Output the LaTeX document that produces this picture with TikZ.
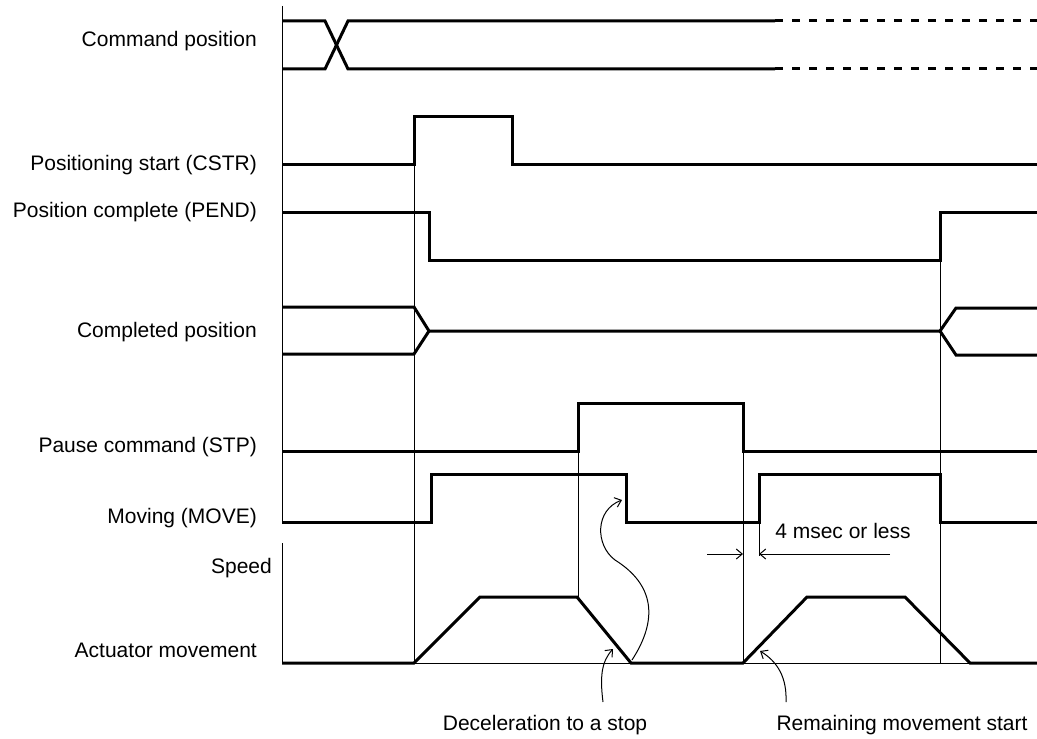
\documentclass[tikz,border=0pt]{standalone}
\usepackage{fontspec}
\setmainfont{Liberation Sans}
\usetikzlibrary{arrows.meta}
\begin{document}
\begin{tikzpicture}[x=1bp,y=-1bp,
  sig/.style={line width=3bp, line join=miter},
  thinline/.style={line width=1bp},
  lbl/.style={anchor=base east, inner sep=0pt, font=\fontsize{21bp}{25bp}\selectfont},
  note/.style={anchor=base, inner sep=0pt, font=\fontsize{21bp}{25bp}\selectfont},
  barb/.style={-{Straight Barb[length=6bp,width=10bp]}},
  dashsig/.style={sig, dash pattern=on 8bp off 9bp}]
\useasboundingbox (0,0) rectangle (1037,739);

% labels
\node[lbl] (cmd)  at (257,46.5) {Command position};
\node[lbl] (cstr) at (257,170)  {Positioning start (CSTR)};
\node[lbl] (pend) at (257,217)  {Position complete (PEND)};
\node[lbl] (cpos) at (257,337)  {Completed position};
\node[lbl] (stp)  at (257,452)  {Pause command (STP)};
\node[lbl] (move) at (257,523)  {Moving (MOVE)};
\node[lbl] (spd)  at (272,573)  {Speed};
\node[lbl] (act)  at (257,657)  {Actuator movement};

% axes
\draw[thinline] (282,6) -- (282,522);
\draw[thinline] (282,543) -- (282,663);

% thin vertical guide lines
\draw[thinline] (414,116) -- (414,663);
\draw[thinline] (940,212) -- (940,663);
\draw[thinline] (578,403) -- (578,597);
\draw[thinline] (743,403) -- (743,663);
\draw[thinline] (759,474) -- (759,556);

% speed baseline
\draw[thinline] (282,663) -- (1037,663);

% command position
\draw[sig] (282,21) -- (325,21) -- (348,69) -- (775,69);
\draw[sig] (282,69) -- (325,69) -- (348,21) -- (775,21);
\draw[dashsig] (775,21) -- (1037,21);
\draw[dashsig] (775,69) -- (1037,69);

% CSTR
\draw[sig] (282,164) -- (414,164) -- (414,116) -- (512,116) -- (512,164) -- (1037,164);

% PEND
\draw[sig] (282,212) -- (429,212) -- (429,260) -- (940,260) -- (940,212) -- (1037,212);

% completed position
\draw[sig] (282,307) -- (414,307) -- (429,331) -- (940,331) -- (956,308) -- (1037,308);
\draw[sig] (282,354) -- (414,354) -- (429,331);
\draw[sig] (940,331) -- (956,355) -- (1037,355);

% STP
\draw[sig] (282,451) -- (578,451) -- (578,403) -- (743,403) -- (743,451) -- (1037,451);

% MOVE
\draw[sig] (282,522) -- (431,522) -- (431,474) -- (626,474) -- (626,522) -- (759,522) -- (759,474) -- (940,474) -- (940,522) -- (1037,522);

% speed profile
\draw[sig] (282,663) -- (414,663) -- (480,597) -- (577,597) -- (631,663) -- (743,663) -- (807,597) -- (905,597) -- (970,663) -- (1037,663);

% 4 msec dimension
\coordinate (dl) at (707,554);
\coordinate (dlt) at (743,554);
\coordinate (dr) at (890,554);
\coordinate (drt) at (759,554);
\draw[thinline, barb] (dl) -- (dlt);
\draw[thinline, barb] (dr) -- (drt);
\node[note] (msec) at (843,538) {4 msec or less};

% annotations
\node[note] (decel) at (545,730) {Deceleration to a stop};
\node[note] (remain) at (902,730) {Remaining movement start};

\coordinate (a1s) at (603,702);
\coordinate (a1e) at (613,649);
\draw[thinline, barb] (a1s) .. controls (600,678) and (601,662) .. (a1e);

\coordinate (a2s) at (786,702);
\coordinate (a2e) at (760,651);
\draw[thinline, barb] (a2s) .. controls (787,678) and (778,662) .. (a2e);

\coordinate (a3s) at (632,660);
\coordinate (a3m) at (615,560);
\coordinate (a3e) at (622,500);
\draw[thinline, barb] (a3s) .. controls (658,620) and (655,585) .. (a3m) .. controls (595,545) and (595,510) .. (a3e);

\end{tikzpicture}
\end{document}
